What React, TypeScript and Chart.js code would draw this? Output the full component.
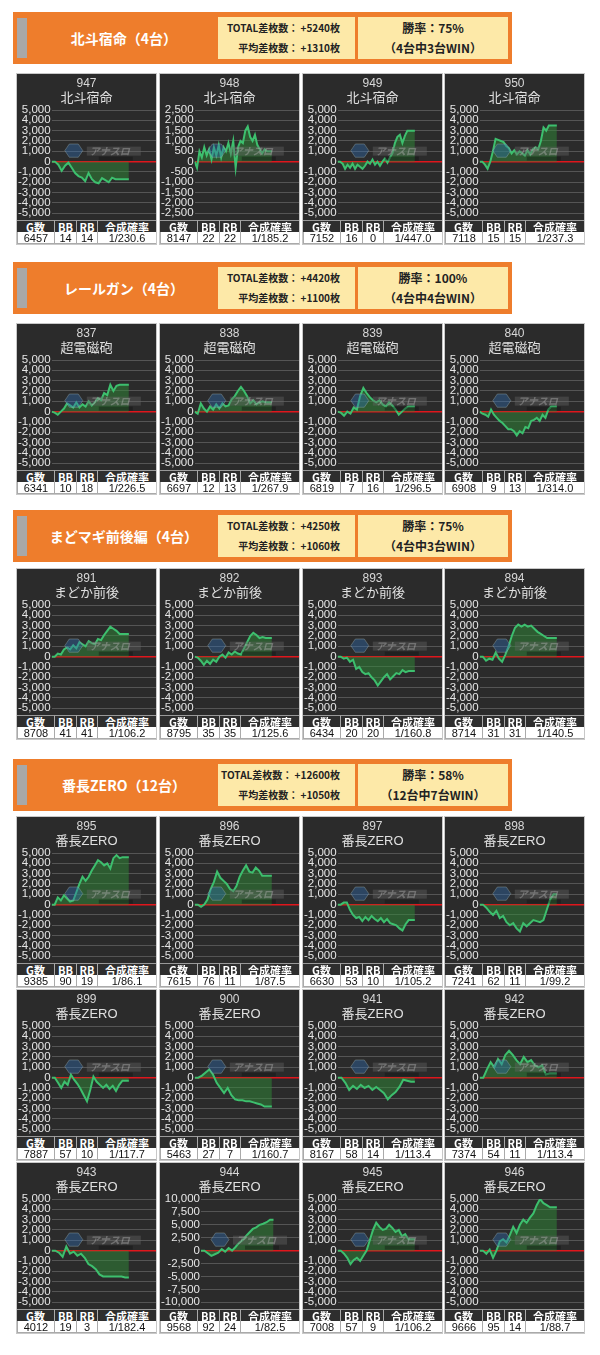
import React, { useEffect, useRef } from "react";
import { Chart, registerables } from "chart.js";
Chart.register(...registerables);

const sectionTitles = ["北斗宿命（4台）", "レールガン（4台）", "まどマギ前後編（4台）", "番長ZERO（12台）"];
const totalDiffs = ["+5240枚", "+4420枚", "+4250枚", "+12600枚"];
const avgDiffs = ["+1310枚", "+1100枚", "+1060枚", "+1050枚"];
const winRates = ["75%", "100%", "75%", "58%"];
const winCounts = ["4台中3台WIN", "4台中4台WIN", "4台中3台WIN", "12台中7台WIN"];
const machineNames = ["北斗宿命", "超電磁砲", "まどか前後", "番長ZERO"];
const sectionSizes = [4, 4, 4, 12];

const machineNos = [947, 948, 949, 950, 837, 838, 839, 840, 891, 892, 893, 894, 895, 896, 897, 898, 899, 900, 941, 942, 943, 944, 945, 946];
const gameCounts = [6457, 8147, 7152, 7118, 6341, 6697, 6819, 6908, 8708, 8795, 6434, 8714, 9385, 7615, 6630, 7241, 7887, 5463, 8167, 7374, 4012, 9568, 7008, 9666];
const bbCounts = [14, 22, 16, 15, 10, 12, 7, 9, 41, 35, 20, 31, 90, 76, 53, 62, 57, 27, 58, 54, 19, 92, 57, 95];
const rbCounts = [14, 22, 0, 15, 18, 13, 16, 13, 41, 35, 20, 31, 19, 11, 10, 11, 10, 7, 14, 11, 3, 24, 9, 14];
const comboRates = ["1/230.6", "1/185.2", "1/447.0", "1/237.3", "1/226.5", "1/267.9", "1/296.5", "1/314.0", "1/106.2", "1/125.6", "1/160.8", "1/140.5", "1/86.1", "1/87.5", "1/105.2", "1/99.2", "1/117.7", "1/160.7", "1/113.4", "1/113.4", "1/182.4", "1/82.5", "1/106.2", "1/88.7"];
const yLimits = [5000, 2500, 5000, 5000, 5000, 5000, 5000, 5000, 5000, 5000, 5000, 5000, 5000, 5000, 5000, 5000, 5000, 5000, 5000, 5000, 5000, 10000, 5000, 5000];
const ySteps = [1000, 500, 1000, 1000, 1000, 1000, 1000, 1000, 1000, 1000, 1000, 1000, 1000, 1000, 1000, 1000, 1000, 1000, 1000, 1000, 1000, 2500, 1000, 1000];

const s947 = [0, 0, -300, -900, -400, -100, -600, -1100, -1400, -1550, -1900, -1100, -1700, -2000, -2100, -1600, -1800, -2000, -1550, -1700, -1700, -1700, -1700, -1700];
const s948 = [0, -300, 500, 200, 700, 300, 600, 100, 700, 300, 800, 200, 700, 500, 900, 400, 1000, -300, 700, 1000, 900, 1500, 1700, 1200, 1000, 1300, 800, 600, 400, 600, 500, 500, 500];
const s949 = [0, 0, -200, -700, -300, -600, -200, -700, -300, -500, -700, -400, 0, -200, 200, -300, 0, -400, 0, 300, -100, 400, 800, 1800, 2400, 2600, 1800, 2500, 3000, 3000, 3000, 3000];
const s950 = [0, 0, -300, -700, 0, 1000, 2200, 2100, 2000, 1900, 1500, 1300, 800, 1100, 700, 1000, 800, 600, 1100, 700, 1200, 1400, 1200, 2000, 3300, 3000, 3500, 3500, 3500, 3500];
const s837 = [0, -100, -300, 0, 300, 800, 600, 400, 900, 400, 700, 500, 1000, 600, 900, 1300, 1100, 1800, 1600, 2600, 2000, 2500, 2600, 2600, 2600, 2600];
const s838 = [0, -200, 800, 300, 0, 500, 200, 700, 300, 800, 500, 600, 1200, 1500, 2000, 2400, 2000, 1500, 800, 1100, 700, 900, 1000, 900, 900, 900];
const s839 = [0, -100, -400, 0, -200, 400, 200, 1500, 2300, 1800, 1400, 1100, 900, 1100, 700, 500, 900, 600, 200, -300, 0, 300, 500, 500, 500];
const s840 = [0, -200, -300, -500, 200, -300, -600, -900, -1100, -1400, -1700, -1700, -1900, -2300, -1900, -2100, -1500, -1600, -900, -800, -600, -900, -300, -600, 200, 500, 500, 500];
const s891 = [0, 0, 300, 200, 700, 900, 700, 1100, 800, 1400, 1200, 1000, 1500, 1300, 1200, 1700, 1600, 2100, 2500, 2900, 2700, 2500, 2200, 2200, 2200, 2200];
const s892 = [0, -100, -400, -800, -400, -700, -300, -500, 0, 200, -100, 400, 200, 500, 300, 200, 800, 1400, 2000, 2300, 2100, 1800, 1900, 1800, 1800, 1800];
const s893 = [0, 0, -200, -100, -500, -300, -1200, -1000, -1500, -1700, -1600, -2000, -2300, -2800, -2400, -2000, -1700, -2200, -1900, -1600, -1700, -1300, -1500, -1400, -1400, -1400];
const s894 = [0, 0, -400, -200, -300, 400, -200, -500, 200, 1000, 2000, 2800, 3100, 2900, 3100, 2900, 3000, 2700, 2400, 2200, 2000, 1800, 1800, 1800, 1800];
const s895 = [0, 0, 700, 400, 900, 600, 300, 400, 1200, 2000, 2700, 2300, 2700, 3300, 3800, 4300, 4100, 3800, 4000, 3500, 4500, 4800, 4500, 4600, 4600, 4600];
const s896 = [0, 0, -200, 0, 500, 1500, 2200, 3200, 2600, 2300, 2000, 1500, 1300, 1800, 2700, 3300, 3800, 3200, 3100, 3600, 3300, 2800, 2800, 2800, 2800];
const s897 = [0, 0, 200, 200, -500, -1000, -1300, -1200, -1600, -1200, -1500, -1100, -1400, -1600, -1300, -1700, -1400, -1800, -1900, -2000, -2300, -2500, -1900, -1500, -1500, -1500];
const s898 = [0, 0, -300, -700, -1000, -600, -1300, -1100, -1700, -2000, -1800, -2300, -2600, -1800, -2100, -1800, -1500, -1600, -1700, -1500, -500, 500, 1000, 1000];
const s899 = [0, 0, -500, -1000, -400, -700, 300, -200, -600, -1100, -1700, -2300, -1200, 100, -400, -700, -1000, -700, -1100, -800, -1300, -700, -300, -300, -300];
const s900 = [0, 0, 200, 500, 800, 300, -500, -1000, -1500, -1000, -1700, -2100, -2200, -2200, -2300, -2300, -2400, -2500, -2600, -2800, -2800, -2800];
const s941 = [0, 0, -500, -1200, -800, -1100, -700, -1000, -800, -1200, -900, -1200, -1500, -2100, -1700, -1400, -900, -200, -300, -400, -400];
const s942 = [0, 0, 800, 1500, 1000, 1800, 1300, 2200, 2600, 2200, 1700, 1300, 2000, 1500, 1700, 1200, 1000, 1200, 300, 400, 400, 400];
const s943 = [0, 0, -200, -600, 400, -300, -100, -500, -300, -700, -1300, -1500, -1800, -2300, -2500, -2500, -2500, -2500, -2500, -2500, -2600, -2600];
const s944 = [0, 0, -500, -1000, -700, -400, 300, -200, 500, 0, 700, 1500, 2000, 2800, 3500, 4200, 4500, 5000, 5200, 5500, 6000, 6000];
const s945 = [0, 0, -300, -700, -1300, -900, -700, -1000, -500, 0, 1000, 2000, 2700, 2300, 2000, 2100, 2500, 2200, 1800, 2000, 1400, 1600, 1100, 1100, 1100];
const s946 = [0, 0, -300, 100, -700, 0, 900, 1100, 800, 1500, 2300, 1700, 2500, 3000, 2700, 3200, 3600, 4400, 5000, 4600, 4400, 4200, 4200, 4200];

const seriesList = [s947, s948, s949, s950, s837, s838, s839, s840, s891, s892, s893, s894, s895, s896, s897, s898, s899, s900, s941, s942, s943, s944, s945, s946];

const headerTops = [12, 262, 510, 759];
const rowTops = [[74], [324], [569], [817, 990, 1163]];
const colLefts = [17, 160, 303, 445];
const CELL_W = 139;
const PLOT_H = 146;

const LATIN = "'Liberation Sans', Arial, 'Noto Sans CJK JP', sans-serif";
const JP = "'Noto Sans CJK JP', 'Liberation Sans', sans-serif";

const watermark = {
  id: "watermark",
  afterDatasetsDraw(chart: any) {
    const { ctx, chartArea } = chart;
    const cx = (chartArea.left + chartArea.right) / 2;
    const cy = (chartArea.top + chartArea.bottom) / 2 - 11;
    ctx.save();
    ctx.globalAlpha = 0.4;
    const hx = cx - 30, r = 9;
    ctx.beginPath();
    for (let i = 0; i < 6; i++) {
      const a = (Math.PI / 3) * i;
      const px = hx + r * Math.cos(a), py = cy + r * 0.85 * Math.sin(a);
      if (i === 0) ctx.moveTo(px, py); else ctx.lineTo(px, py);
    }
    ctx.closePath();
    ctx.fillStyle = "#2f6db5";
    ctx.fill();
    ctx.strokeStyle = "#9aa";
    ctx.lineWidth = 1;
    ctx.stroke();
    ctx.fillStyle = "#666";
    ctx.fillRect(cx - 17, cy - 4, 54, 9);
    ctx.fillStyle = "#bbb";
    ctx.font = "italic bold 10px " + JP;
    ctx.textBaseline = "middle";
    ctx.fillText("アナスロ", cx - 14, cy + 1);
    ctx.fillStyle = "#111";
    ctx.fillRect(cx - 5, cy + 6, 34, 4);
    ctx.restore();
  },
};

function MiniChart({ idx, name }: { idx: number; name: string }) {
  const ref = useRef<HTMLCanvasElement | null>(null);
  useEffect(() => {
    if (!ref.current) return;
    const vals = seriesList[idx];
    const pts = vals.map((v, i) => ({ x: i, y: v }));
    const lim = yLimits[idx];
    const chart = new Chart(ref.current, {
      type: "line",
      data: {
        datasets: [
          {
            data: pts,
            borderColor: "#3dbf6e",
            borderWidth: 2,
            backgroundColor: "rgba(48,140,55,0.5)",
            fill: "origin",
            pointRadius: 0,
            tension: 0,
          },
        ],
      },
      options: {
        animation: false,
        responsive: false,
        maintainAspectRatio: false,
        events: [],
        layout: { padding: { left: 0, right: 0, top: 0, bottom: 2 } },
        plugins: {
          legend: { display: false },
          tooltip: { enabled: false },
          title: {
            display: true,
            text: String(machineNos[idx]),
            color: "#d8d8d8",
            font: { size: 12, family: LATIN, weight: "normal" },
            padding: { top: 2, bottom: 0 },
          },
          subtitle: {
            display: true,
            text: name,
            color: "#e0e0e0",
            font: { size: 13, family: LATIN, weight: "normal" },
            padding: { top: 0, bottom: 4 },
          },
        },
        scales: {
          x: { type: "linear", display: false, min: 0, max: (vals.length - 1) / 0.74 },
          y: {
            min: -lim,
            max: lim,
            ticks: {
              stepSize: ySteps[idx],
              autoSkip: false,
              color: "#e6e6e6",
              font: { size: 11.5, family: LATIN, lineHeight: 1 },
              padding: 1,
              callback: (v: any) => Number(v).toLocaleString("en-US"),
            },
            grid: {
              color: (c: any) => (c.tick && Math.abs(c.tick.value) < 1e-6 ? "#e0161c" : "#555555"),
              lineWidth: (c: any) => (c.tick && Math.abs(c.tick.value) < 1e-6 ? 1.5 : 1),
              drawTicks: false,
            },
            border: { display: false },
          },
        },
      },
      plugins: [watermark],
    } as any);
    return () => chart.destroy();
  }, [idx, name]);
  return <canvas ref={ref} width={CELL_W} height={PLOT_H} style={{ display: "block", width: CELL_W, height: PLOT_H }} />;
}

const colWidths = [38, 22, 21, 58];
const headLabels = ["G数", "BB", "RB", "合成確率"];

function Cell({ idx, name, left, top }: { idx: number; name: string; left: number; top: number }) {
  const vals = [String(gameCounts[idx]), String(bbCounts[idx]), String(rbCounts[idx]), comboRates[idx]];
  const rowStyle = (bg: string, color: string, bold: boolean): React.CSSProperties => ({
    display: "flex",
    height: 12,
    background: bg,
    color,
    fontWeight: bold ? 700 : 400,
    fontSize: 11,
    lineHeight: "12px",
    fontFamily: bold ? JP : LATIN,
    whiteSpace: "nowrap",
  });
  return (
    <div style={{ position: "absolute", left, top, width: CELL_W, height: 170, background: "#2b2b2b", outline: "1px solid #c8c8c8" }}>
      <MiniChart idx={idx} name={name} />
      <div style={rowStyle("#2e2e2e", "#ffffff", true)}>
        {headLabels.map((h, i) => (
          <div key={i} style={{ width: colWidths[i], textAlign: "center", borderRight: i < 3 ? "1px solid #aaa" : "none", borderTop: "1px solid #999", boxSizing: "border-box", overflow: "hidden" }}>{h}</div>
        ))}
      </div>
      <div style={rowStyle("#ffffff", "#111111", false)}>
        {vals.map((h, i) => (
          <div key={i} style={{ width: colWidths[i], textAlign: "center", borderRight: i < 3 ? "1px solid #aaa" : "none", borderBottom: "1px solid #aaa", borderLeft: i === 0 ? "1px solid #aaa" : "none", boxSizing: "border-box" }}>{h}</div>
        ))}
      </div>
    </div>
  );
}

function Header({ s, top }: { s: number; top: number }) {
  return (
    <div style={{ position: "absolute", left: 13, top, width: 499, height: 52, background: "#ee7d2c", fontFamily: JP }}>
      <div style={{ position: "absolute", left: 4, top: 6, width: 10, height: 40, background: "#a8a8a8" }} />
      <div style={{ position: "absolute", left: 18, top: 0, width: 186, height: 52, lineHeight: "52px", textAlign: "center", color: "#fff", fontWeight: 700, fontSize: 14, whiteSpace: "nowrap" }}>
        {sectionTitles[s]}
      </div>
      <div style={{ position: "absolute", left: 205, top: 5, width: 137, height: 42, background: "#fde9a8", color: "#222", fontWeight: 700, fontSize: 10, textAlign: "right", boxSizing: "border-box", paddingRight: 15, paddingTop: 1, whiteSpace: "nowrap" }}>
        <div style={{ lineHeight: "20px" }}>TOTAL差枚数：&nbsp;{totalDiffs[s]}</div>
        <div style={{ lineHeight: "20px" }}>平均差枚数：&nbsp;{avgDiffs[s]}</div>
      </div>
      <div style={{ position: "absolute", left: 345, top: 5, width: 150, height: 42, background: "#fde9a8", color: "#222", fontWeight: 700, fontSize: 12, textAlign: "center", paddingTop: 1, boxSizing: "border-box", whiteSpace: "nowrap" }}>
        <div style={{ lineHeight: "20px" }}>勝率：{winRates[s]}</div>
        <div style={{ lineHeight: "20px" }}>（{winCounts[s]}）</div>
      </div>
    </div>
  );
}

export default function App() {
  const cells: React.ReactNode[] = [];
  let idx = 0;
  sectionSizes.forEach((n, s) => {
    for (let k = 0; k < n; k++) {
      const row = Math.floor(k / 4);
      const col = k % 4;
      cells.push(<Cell key={idx} idx={idx} name={machineNames[s]} left={colLefts[col]} top={rowTops[s][row]} />);
      idx++;
    }
  });
  return (
    <div style={{ position: "absolute", left: 0, top: 0, width: 600, height: 1355, background: "#fff" }}>
      {headerTops.map((t, s) => (
        <Header key={s} s={s} top={t} />
      ))}
      {cells}
    </div>
  );
}
